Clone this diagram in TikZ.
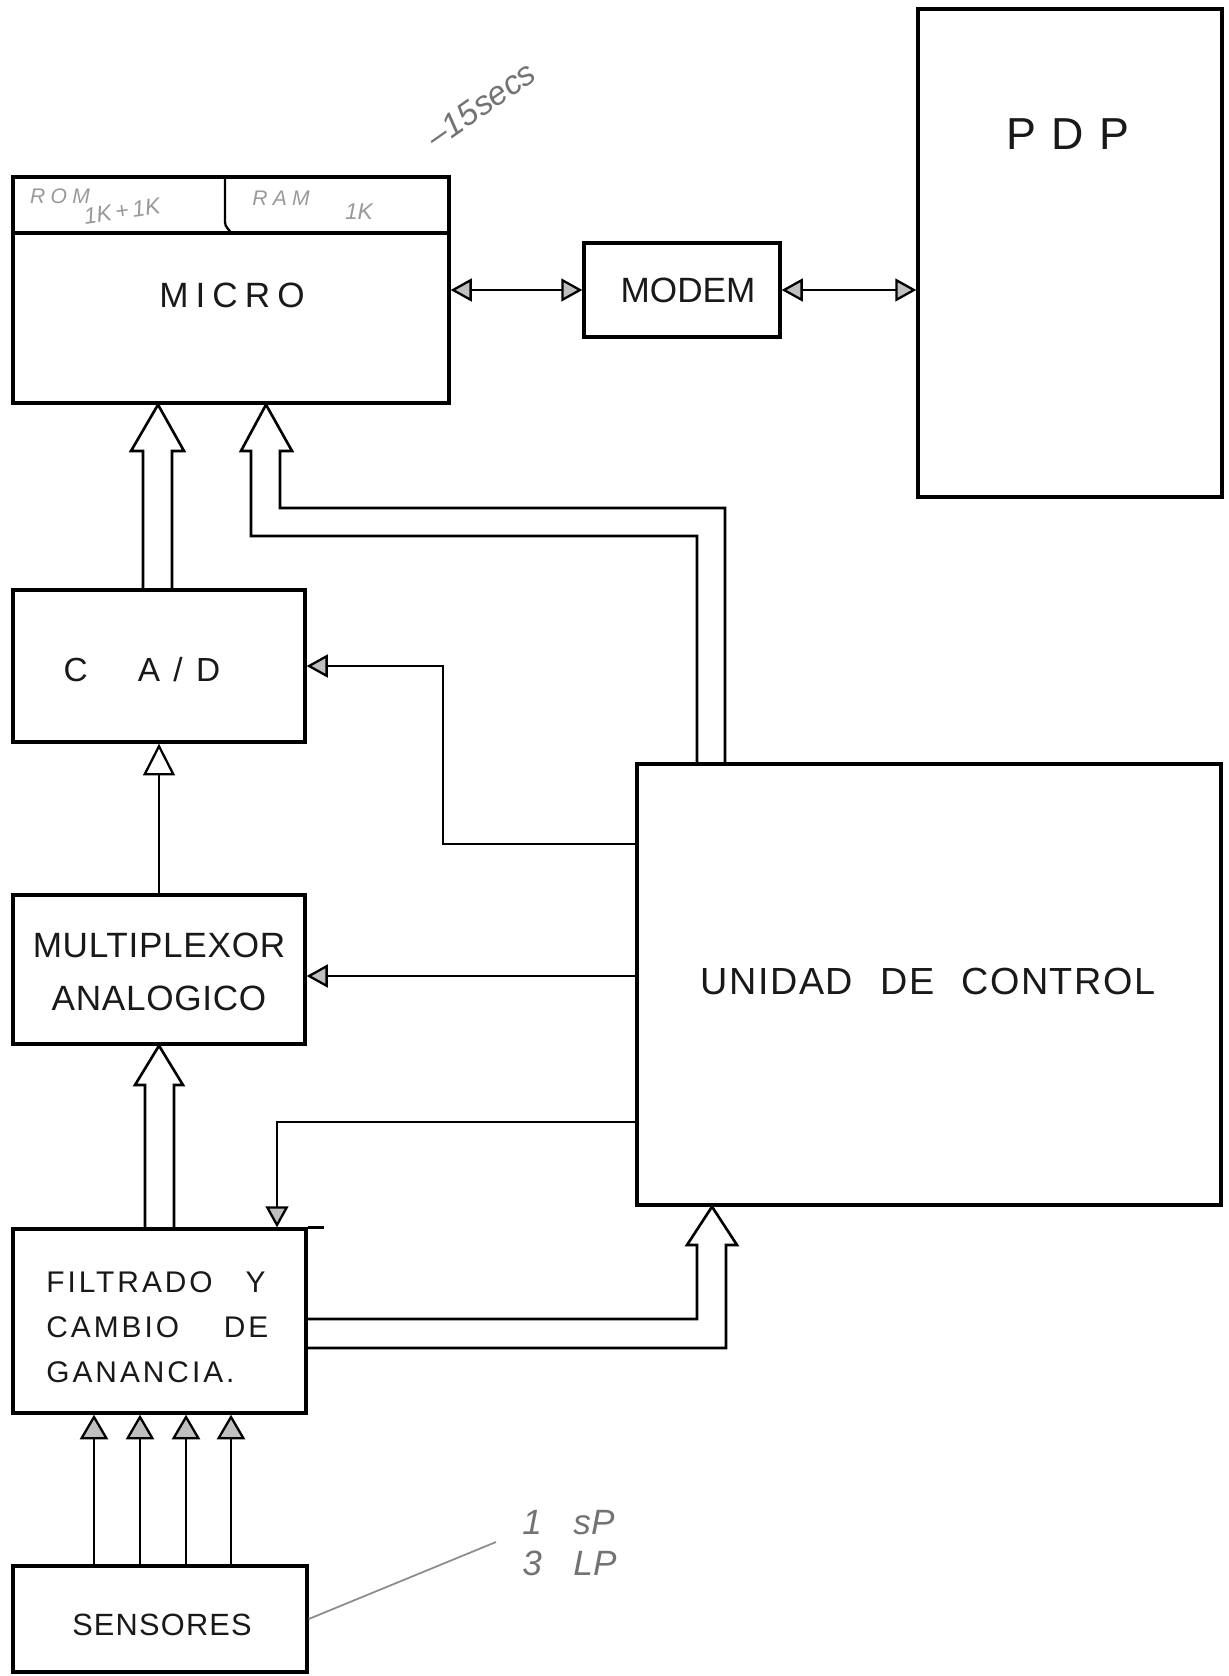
\documentclass[tikz,border=0pt]{standalone}
\usepackage{fontspec}
\newfontfamily\lettering{Liberation Sans}
\usetikzlibrary{arrows.meta,fit}

\tikzset{
  gtip/.tip={Triangle[length=12pt,width=13pt,fill=gray!50]},
  stip/.tip={Triangle[length=14pt,width=16pt,fill=gray!50]},
  otip/.tip={Triangle[open,length=18pt,width=18pt]},
}

\begin{document}
\begin{tikzpicture}[x=0.02cm, y=-0.02cm,
    block/.style={draw, line width=1.9pt, inner sep=0pt},
    wire/.style={line width=1.3pt},
    bus/.style={line width=1.5pt, line join=miter},
    lbl/.style={inner sep=0pt, text=black!90},
    hand/.style={inner sep=0pt, text=black!55},
    handline/.style={draw=black!45, line width=1pt}]
  \useasboundingbox (0,0) rectangle (1229,1676);
  % blocks
  \node[block, fit={(13,177) (449,403)}] (micro) {};
  \node[block, fit={(584,243) (780,337)}] (modem) {};
  \node[block, fit={(918,9) (1222,497)}] (pdp) {};
  \node[block, fit={(13,590) (305,742)}] (cad) {};
  \node[block, fit={(637,764) (1221,1205)}] (ctrl) {};
  \node[block, fit={(13,895) (305,1044)}] (mux) {};
  \node[block, fit={(13,1229) (306,1413)}] (filt) {};
  \node[block, fit={(13,1566) (307,1672)}] (sens) {};
  \draw[line width=1.9pt] (micro.west |- 0,233) -- (micro.east |- 0,233);
  \draw[line width=1.3pt] (225,177) -- (225,222) to[out=-90,in=120] (231,233);
  \draw[line width=1.9pt] (filt.north east) -- ++(16,0);

  % labels
  \node[lbl, font={\lettering\fontsize{20}{24}\selectfont\addfontfeature{LetterSpace=20}}] (microlbl) at (232,295) {MICRO};
  \node[lbl, font={\lettering\fontsize{20}{24}\selectfont}] (modemlbl) at (688,290) {MODEM};
  \node[lbl, font={\lettering\fontsize{25.5}{30}\selectfont\addfontfeature{LetterSpace=34}}] (pdplbl) at (1068,134) {PDP};
  \node[lbl, font={\lettering\fontsize{19}{23}\selectfont\addfontfeature{LetterSpace=40}}] (cadlbl) at (142,670) {C\hspace{1.5em}A/D};
  \node[lbl, font={\lettering\fontsize{21.5}{26}\selectfont\addfontfeature{LetterSpace=4}}] (ctrllbl) at (928,981) {UNIDAD\hspace{0.4em} DE\hspace{0.4em} CONTROL};
  \node[lbl, align=center, font={\lettering\fontsize{20}{30.2}\selectfont\addfontfeature{LetterSpace=2}}] (muxlbl) at (159,972) {MULTIPLEXOR\\ANALOGICO};
  \node[lbl, align=left, anchor=west, font={\lettering\fontsize{17}{25.6}\selectfont\addfontfeature{LetterSpace=10}}] (filtlbl) at (46,1327) {FILTRADO\hspace{1.1em}Y\\CAMBIO\hspace{1.5em}DE\\GANANCIA.};
  \node[lbl, font={\lettering\fontsize{17.5}{21}\selectfont\addfontfeature{LetterSpace=4}}] (senslbl) at (162,1625) {SENSORES};

  % pencil notes
  \node[hand, text=black!40, font={\lettering\itshape\fontsize{12}{14}\selectfont\addfontfeature{LetterSpace=25}}] (romlbl) at (60,196) {ROM};
  \node[hand, text=black!40, rotate=8, font={\lettering\itshape\fontsize{13}{15}\selectfont}] (romsize) at (122,211) {1K\,+\,1K};
  \node[hand, text=black!40, font={\lettering\itshape\fontsize{12}{14}\selectfont\addfontfeature{LetterSpace=25}}] (ramlbl) at (281,198) {RAM};
  \node[hand, text=black!40, font={\lettering\itshape\fontsize{13}{15}\selectfont}] (ramsize) at (359,212) {1K};
  \node[hand, rotate=35, font={\lettering\itshape\fontsize{19}{22}\selectfont}] (timelbl) at (481,105) {\textendash15secs};
  \node[hand, align=left, anchor=west, font={\lettering\itshape\fontsize{20}{23}\selectfont}] (sensnote) at (522,1543) {1\hspace{0.9em}sP\\3\hspace{0.9em}LP};
  \coordinate (notetip) at (496,1542);
  \draw[handline] (sens.east) -- (notetip);

  % thin links
  \draw[wire, gtip-gtip] (micro.east |- modem) -- (modem.west);
  \draw[wire, gtip-gtip] (modem.east) -- (modem.east -| pdp.west);
  \draw[wire, -gtip] (ctrl.west |- 0,844) -- (443,844) |- (cad.east);
  \draw[wire, -gtip] (ctrl.west |- 0,976) -- (mux.east |- 0,976);
  \draw[wire, -gtip] (ctrl.west |- 0,1122) -| (filt.north -| 277,0);
  \draw[wire, -otip] (mux.north) -- (cad.south);
  \foreach \x in {94,140,186,231}
    \draw[wire, -stip] (sens.north -| \x,0) -- (filt.south -| \x,0);

  % wide buses
  \draw[bus] (cad.north -| 143,0) -- (143,451) -- (131,451) -- (micro.south -| 158,0)
    -- (184,451) -- (172,451) -- (cad.north -| 172,0);
  \draw[bus] (ctrl.north -| 697,0) -- (697,536) -- (251,536) -- (251,451) -- (241,451)
    -- (micro.south -| 266,0) -- (292,451) -- (280,451) -- (280,508) -- (725,508) -- (ctrl.north -| 725,0);
  \draw[bus] (filt.north -| 145,0) -- (145,1085) -- (135,1085) -- (mux.south -| 159,0)
    -- (183,1085) -- (174,1085) -- (filt.north -| 174,0);
  \draw[bus] (filt.east |- 0,1319) -- (697,1319) -- (697,1245) -- (687,1245) -- (ctrl.south -| 712,0)
    -- (737,1245) -- (726,1245) -- (726,1348) -- (filt.east |- 0,1348);
\end{tikzpicture}
\end{document}
